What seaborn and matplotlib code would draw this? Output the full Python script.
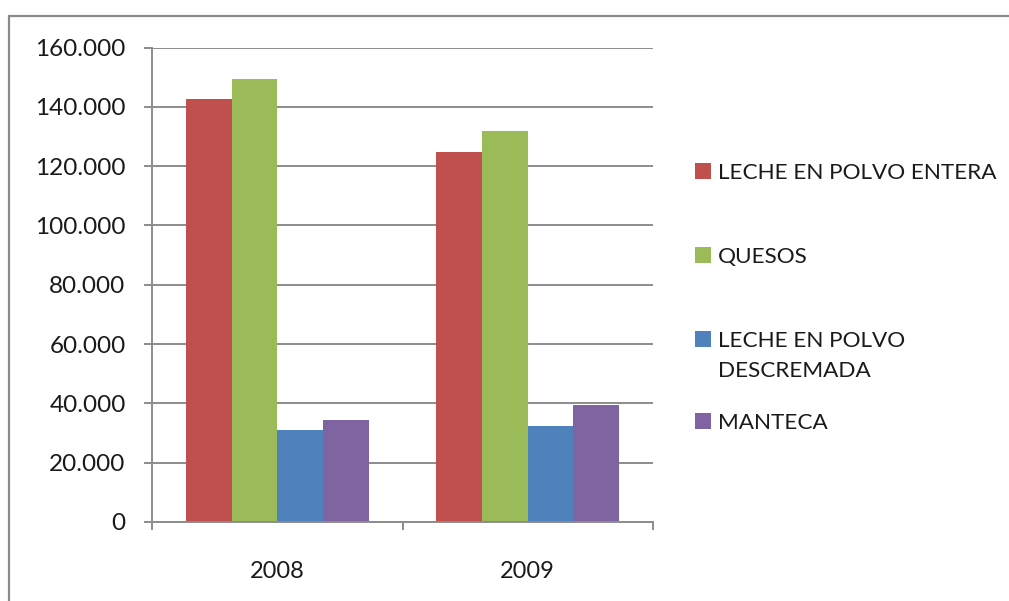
import matplotlib
matplotlib.use("Agg")
import matplotlib.pyplot as plt
from matplotlib.patches import Patch, Rectangle
from matplotlib.ticker import FuncFormatter, MultipleLocator, FixedLocator
import seaborn as sns
import pandas as pd

years = ["2008", "2009"]
products = ["LECHE EN POLVO ENTERA", "QUESOS", "LECHE EN POLVO DESCREMADA", "MANTECA"]
leche_entera = [142500, 124600]
quesos = [149500, 131700]
leche_descremada = [30900, 32300]
manteca = [34400, 39300]
colors = ["#C0504D", "#9BBB59", "#4F81BD", "#8064A2"]
legend_lines = [["LECHE EN POLVO ENTERA"], ["QUESOS"], ["LECHE EN POLVO", "DESCREMADA"], ["MANTECA"]]

rows = []
for prod, vals in zip(products, [leche_entera, quesos, leche_descremada, manteca]):
    for y, v in zip(years, vals):
        rows.append({"year": y, "product": prod, "value": v})
df = pd.DataFrame(rows)

sns.set_theme(style="white")
plt.rcParams["font.family"] = ["Lato", "DejaVu Sans"]

fig = plt.figure(figsize=(10.09, 6.01), dpi=100)
W, H = 1009, 601
ax = fig.add_axes([152 / W, 1 - 522 / H, (653 - 152) / W, (522 - 47.5) / H])

sns.barplot(data=df, x="year", y="value", hue="product", hue_order=products,
            palette=colors, width=0.73, ax=ax, legend=False, linewidth=0, saturation=1)

grid_c = "#8C8C8C"
txt_c = "#1a1a1a"
ax.set_ylim(0, 160000)
ax.set_xlim(-0.5, 1.5)
ax.yaxis.set_major_locator(MultipleLocator(20000))
ax.yaxis.set_major_formatter(FuncFormatter(lambda v, p: f"{v:,.0f}".replace(",", ".")))
ax.grid(axis="y", color=grid_c, linewidth=1.4)
ax.set_axisbelow(True)
for s in ["top", "right"]:
    ax.spines[s].set_visible(False)
for s in ["left", "bottom"]:
    ax.spines[s].set_color(grid_c)
    ax.spines[s].set_linewidth(1.4)
ax.set_xlabel("")
ax.set_ylabel("")
ax.xaxis.set_minor_locator(FixedLocator([-0.5, 0.5, 1.5]))
ax.tick_params(axis="x", which="major", length=0, pad=28, labelsize=17, labelcolor=txt_c)
ax.tick_params(axis="x", which="minor", bottom=True, length=6, width=1.4, color=grid_c)
ax.tick_params(axis="y", which="major", left=True, length=6, width=1.4, color=grid_c,
               pad=13, labelsize=17.5, labelcolor=txt_c)

# legend entries, positioned individually
handles = [Patch(facecolor=c, edgecolor="none") for c in colors]
blank = Patch(facecolor="none", edgecolor="none")
entry_y = [173, 257, 341, 423]
for h, lines, yc in zip(handles, legend_lines, entry_y):
    for k, line in enumerate(lines):
        leg = fig.legend(handles=[h if k == 0 else blank], labels=[line],
                         loc="center left", bbox_to_anchor=(695 / W, 1 - (yc + 30 * k) / H),
                         frameon=False, fontsize=16.2, handlelength=0.7, handleheight=0.7,
                         handletextpad=0.33, borderpad=0, borderaxespad=0)
        for t in leg.get_texts():
            t.set_color(txt_c)

fig.patches.append(Rectangle((9 / W, -0.2), 1.5, 1 - 16 / H + 0.2, transform=fig.transFigure,
                             fill=False, edgecolor="#8A8A8A", linewidth=1.6))

fig.savefig("out.png", dpi=100, facecolor="white")
